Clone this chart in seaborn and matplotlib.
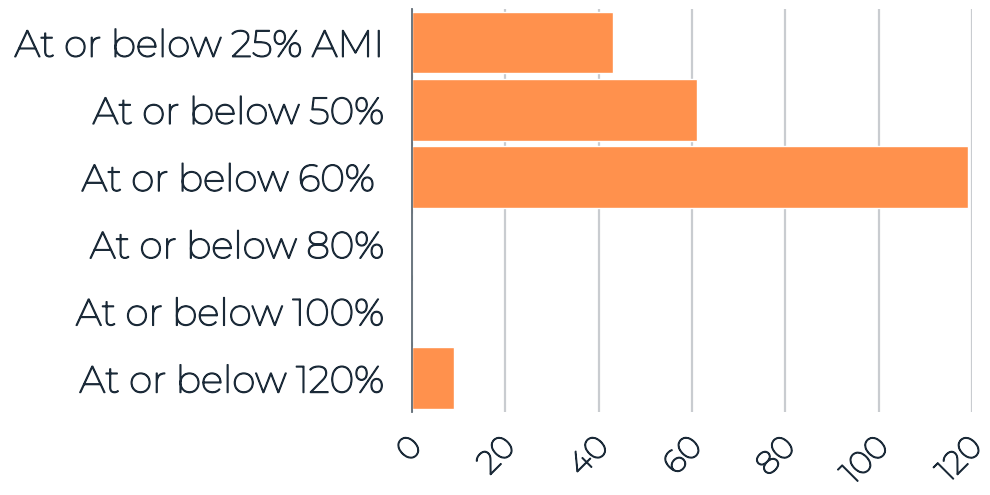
import matplotlib
matplotlib.use("Agg")
import matplotlib.pyplot as plt
import matplotlib.patheffects as pe
import matplotlib.transforms as mtransforms
import seaborn as sns
import pandas as pd

categories = [
    "At or below 25% AMI",
    "At or below 50%",
    "At or below 60% ",
    "At or below 80%",
    "At or below 100%",
    "At or below 120%",
]
units = [43, 61, 119, 0, 0, 9]
x_ticks = [0, 20, 40, 60, 80, 100, 120]

df = pd.DataFrame({"category": categories, "units": units})

sns.set_theme(style="white")
plt.rcParams["font.family"] = ["Montserrat", "DejaVu Sans"]

text_color = "#1b2a38"
bar_color = "#FF914D"
# the installed Montserrat is a thin cut; a thin stroke gives it regular weight
thicken = [pe.withStroke(linewidth=1.0, foreground=text_color)]

fig = plt.figure(figsize=(9.9, 4.95), dpi=100)
ax = fig.add_axes([0.416, 0.168, 0.566, 0.814])

sns.barplot(data=df, y="category", x="units", orient="h",
            color=bar_color, saturation=1, width=0.92, ax=ax, zorder=3)

ax.set_xlim(0, 120)
ax.set_xticks(x_ticks)
ax.set_xticklabels([str(t) for t in x_ticks], rotation=45, ha="right",
                   va="top", fontsize=23, color=text_color)
ax.tick_params(axis="y", labelsize=27, labelcolor=text_color, pad=20, length=0)
ax.tick_params(axis="x", pad=14, length=0)

# nudge the slanted tick labels so their ends sit just right of each tick
shift = mtransforms.ScaledTranslation(0.16, 0, fig.dpi_scale_trans)
for lbl in ax.get_xticklabels():
    lbl.set_transform(lbl.get_transform() + shift)
for lbl in ax.get_xticklabels() + ax.get_yticklabels():
    lbl.set_path_effects(thicken)
ax.set_xlabel("")
ax.set_ylabel("")

ax.grid(axis="x", color="#c9ccd0", linewidth=1.6, zorder=0)
ax.grid(axis="y", visible=False)
for side in ["top", "right", "bottom"]:
    ax.spines[side].set_visible(False)
ax.spines["left"].set_color("#5f6b75")
ax.spines["left"].set_linewidth(1.3)
ax.spines["left"].set_zorder(4)

fig.savefig("out.png", dpi=100)
